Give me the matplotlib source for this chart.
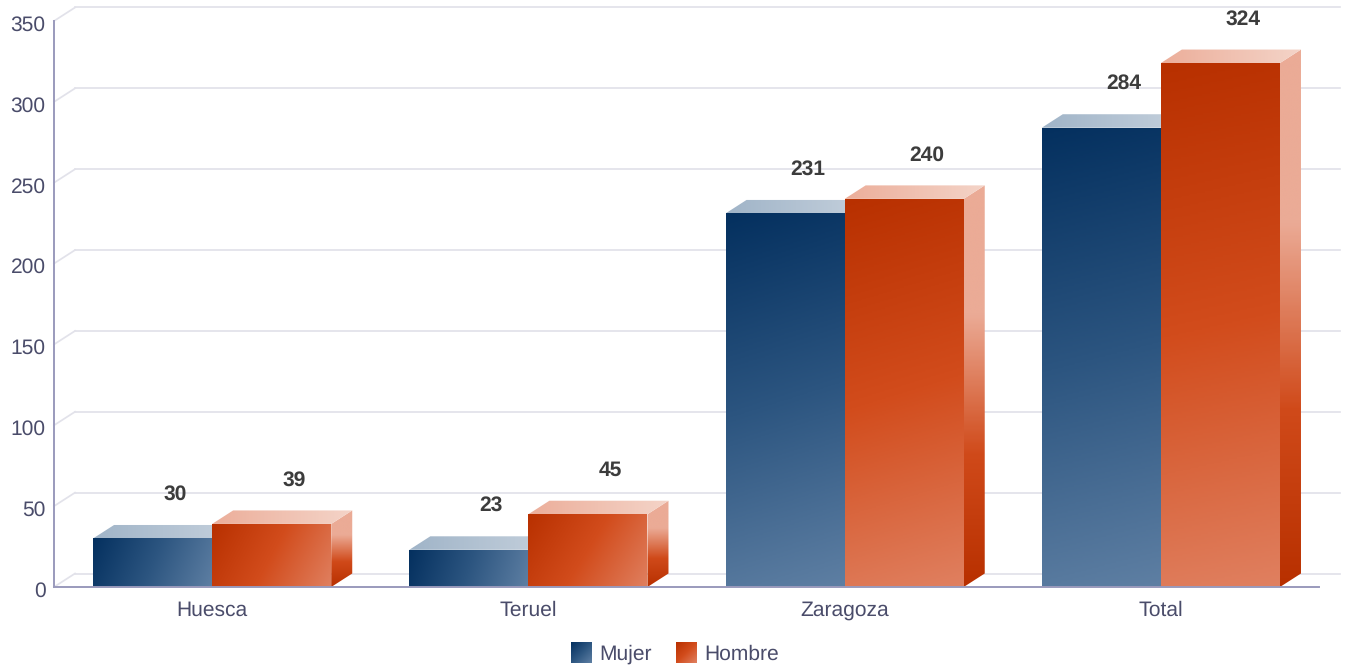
import matplotlib
matplotlib.use("Agg")
import matplotlib.pyplot as plt
import numpy as np
from matplotlib.colors import LinearSegmentedColormap
from matplotlib.patches import Polygon
from matplotlib.transforms import ScaledTranslation

plt.rcParams['font.family'] = ['Liberation Sans', 'DejaVu Sans']
plt.rcParams['text.hinting'] = 'none'
plt.rcParams['text.hinting_factor'] = 1

# Data
categories = ["Huesca", "Teruel", "Zaragoza", "Total"]
mujer = [30, 23, 231, 284]
hombre = [39, 45, 240, 324]
y_ticks = [0, 50, 100, 150, 200, 250, 300, 350]

W, H = 1346, 666
L, R, B, T = 54, 1319, 587, 21
PX_X = 316
PX_Y = (B - T) / 350
BAR_W = 119 / PX_X
DX = 21 / PX_X
DY = 13.5 / PX_Y

GRID = "#e2e2ea"
AXIS = "#9a9abc"
TICK = "#4a4c6a"
FS = 15.2

blue_front = ["#04305f", "#2c5580", "#5e7fa3"]
red_front = ["#b83000", "#d24c1c", "#e08060"]
blue_top = ["#a0b4c8", "#c4d0dc"]
red_top = ["#ecae9a", "#f4d4c8"]
red_side = [(0, "#ebab96"), (0.32, "#ebab96"), (0.67, "#d04a1a"), (1, "#b83000")]

fig = plt.figure(figsize=(W / 100, H / 100), dpi=100)
ax = fig.add_axes([L / W, 1 - B / H, (R - L) / W, (B - T) / H])
ax.patch.set_alpha(0)


def gradient_poly(pts, colors, wx, wy, zorder):
    # fill a polygon with a linear gradient, t = (wx*u + wy*v) / (wx + wy)
    pts = np.array(pts)
    x0, x1 = pts[:, 0].min(), pts[:, 0].max()
    y0, y1 = pts[:, 1].min(), pts[:, 1].max()
    u, v = np.meshgrid(np.linspace(0, 1, 200), np.linspace(0, 1, 300))
    t = (wx * u + wy * v) / (wx + wy)
    cmap = LinearSegmentedColormap.from_list("g", colors)
    im = ax.imshow(t, extent=(x0, x1, y0, y1), cmap=cmap, vmin=0, vmax=1,
                   aspect='auto', zorder=zorder, interpolation='bilinear')
    im.set_clip_path(Polygon(pts, closed=True, transform=ax.transData))


def draw_bar(x, h, front, top, side, zorder):
    if side is not None:
        gradient_poly([(x + BAR_W, 0), (x + BAR_W + DX, DY), (x + BAR_W + DX, h + DY), (x + BAR_W, h)],
                      side, 0, 1, zorder)
    gradient_poly([(x, h), (x + DX, h + DY), (x + BAR_W + DX, h + DY), (x + BAR_W, h)],
                  top, 1, 0, zorder)
    # gradient runs along the diagonal of the face in pixels
    gradient_poly([(x, 0), (x + BAR_W, 0), (x + BAR_W, h), (x, h)],
                  front, (BAR_W * PX_X) ** 2, (h * PX_Y) ** 2, zorder + 0.1)


# back wall grid
for t in y_ticks:
    ax.plot([DX, 4 + DX], [t + DY, t + DY], color=GRID, lw=1.25, clip_on=False, zorder=1)
    ax.plot([0, DX], [t, t + DY], color=GRID, lw=1.25, clip_on=False, zorder=1)

for i in range(len(categories)):
    draw_bar(i + 0.5 - BAR_W, mujer[i], blue_front, blue_top, None, 3)
    draw_bar(i + 0.5, hombre[i], red_front, red_top, red_side, 4)
    ax.annotate(str(mujer[i]), (i + 0.5 - BAR_W / 2 + DX, mujer[i]), xytext=(1, 44 * 0.72),
                textcoords='offset points', ha='center', va='center', fontsize=FS,
                fontweight='bold', color="#3c3c3c", zorder=6)
    ax.annotate(str(hombre[i]), (i + 0.5 + BAR_W / 2 + DX, hombre[i]), xytext=(1, 44 * 0.72),
                textcoords='offset points', ha='center', va='center', fontsize=FS,
                fontweight='bold', color="#3c3c3c", zorder=6)

ax.set_xlim(0, 4)
ax.set_ylim(0, 350)

for s in ['top', 'right']:
    ax.spines[s].set_visible(False)
for s in ['left', 'bottom']:
    ax.spines[s].set_color(AXIS)
    ax.spines[s].set_linewidth(1.4)
    ax.spines[s].set_zorder(5)

ax.set_yticks(y_ticks)
ax.set_xticks(np.arange(len(categories)) + 0.5)
ax.set_xticklabels(categories)
ax.tick_params(axis='both', length=0, labelsize=FS, labelcolor=TICK)
ax.tick_params(axis='y', pad=6)
ax.tick_params(axis='x', pad=10)

# y labels sit a little under their ticks
shift = ScaledTranslation(0, -2 / 100, fig.dpi_scale_trans)
for lab in ax.get_yticklabels():
    lab.set_transform(lab.get_transform() + shift)

# legend
for px, label, cols in [(571, "Mujer", blue_front), (676, "Hombre", red_front)]:
    lax = fig.add_axes([px / W, 1 - 663 / H, 21 / W, 21 / H])
    u, v = np.meshgrid(np.linspace(0, 1, 40), np.linspace(0, 1, 40))
    lax.imshow((u + v) / 2, cmap=LinearSegmentedColormap.from_list("l", cols), vmin=0, vmax=1, aspect='auto')
    lax.axis('off')
    fig.text((px + 28) / W, 1 - 654 / H, label, fontsize=FS, color=TICK, ha='left', va='center')

fig.savefig("out.png", dpi=100)
